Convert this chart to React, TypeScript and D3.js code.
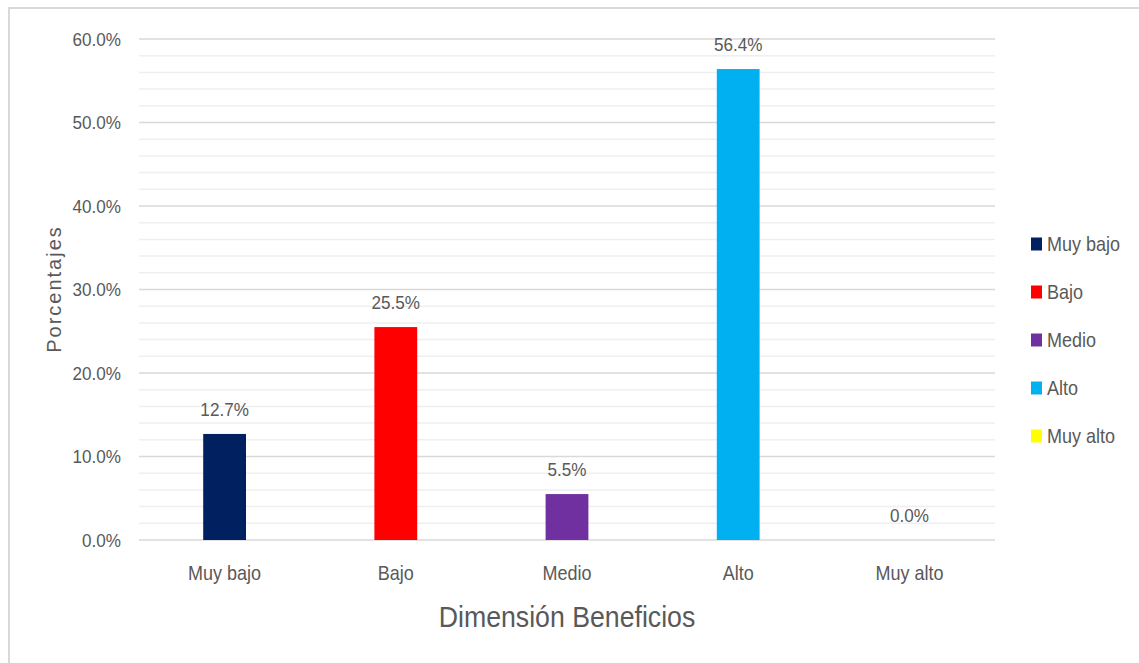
import React, { useRef, useEffect } from 'react';
import * as d3 from 'd3';

const categories: string[] = ['Muy bajo', 'Bajo', 'Medio', 'Alto', 'Muy alto'];
const values: number[] = [12.7, 25.5, 5.5, 56.4, 0.0];
const colors: string[] = ['#002060', '#FF0000', '#7030A0', '#00B0F0', '#FFFF00'];
const majorTicks: number[] = [0, 10, 20, 30, 40, 50, 60];
const minorTicks: number[] = d3.range(0, 60, 2).filter(v => v % 10 !== 0);

const FONT = '"Liberation Sans", Arial, sans-serif';
const TEXT = '#595959';

const App: React.FC = () => {
  const svgRef = useRef<SVGSVGElement>(null);

  useEffect(() => {
    if (!svgRef.current) return;
    const svg = d3.select(svgRef.current);
    svg.selectAll('*').remove();

    const x0 = 139, x1 = 995, yTop = 39, yBottom = 540;

    const x = d3.scaleBand<string>().domain(categories).range([x0, x1]).paddingInner(0).paddingOuter(0);
    const y = d3.scaleLinear().domain([0, 60]).range([yBottom, yTop]);
    const barW = x.bandwidth() * 0.25;

    // chart border
    svg.append('rect')
      .attr('x', 9).attr('y', 8).attr('width', 1150).attr('height', 670)
      .attr('fill', '#fff').attr('stroke', '#d9d9d9').attr('stroke-width', 2);

    // minor gridlines
    svg.append('g').selectAll('line').data(minorTicks).enter().append('line')
      .attr('x1', x0).attr('x2', x1)
      .attr('y1', d => y(d)).attr('y2', d => y(d))
      .attr('stroke', '#efefef').attr('stroke-width', 1.5);

    // major gridlines
    svg.append('g').selectAll('line').data(majorTicks).enter().append('line')
      .attr('x1', x0).attr('x2', x1)
      .attr('y1', d => y(d)).attr('y2', d => y(d))
      .attr('stroke', '#d9d9d9').attr('stroke-width', 1.5);

    // y tick labels
    svg.append('g').selectAll('text').data(majorTicks).enter().append('text')
      .attr('transform', d => `translate(121,${y(d) + 6.5}) scale(0.9,1)`)
      .attr('text-anchor', 'end')
      .attr('font-family', FONT).attr('font-size', 19).attr('fill', TEXT)
      .text(d => d.toFixed(1) + '%');

    // bars
    svg.append('g').selectAll('rect').data(values).enter().append('rect')
      .attr('x', (d, i) => (x(categories[i]) ?? 0) + x.bandwidth() / 2 - barW / 2)
      .attr('y', d => y(d))
      .attr('width', barW)
      .attr('height', d => yBottom - y(d))
      .attr('fill', (d, i) => colors[i]);

    // data labels
    svg.append('g').selectAll('text').data(values).enter().append('text')
      .attr('transform', (d, i) => `translate(${(x(categories[i]) ?? 0) + x.bandwidth() / 2},${y(d) - 18}) scale(0.9,1)`)
      .attr('text-anchor', 'middle')
      .attr('font-family', FONT).attr('font-size', 19).attr('fill', TEXT)
      .text(d => d.toFixed(1) + '%');

    // category labels
    svg.append('g').selectAll('text').data(categories).enter().append('text')
      .attr('transform', d => `translate(${(x(d) ?? 0) + x.bandwidth() / 2},580) scale(0.9,1)`)
      .attr('text-anchor', 'middle')
      .attr('font-family', FONT).attr('font-size', 20).attr('fill', TEXT)
      .text(d => d);

    // x title
    svg.append('text')
      .attr('transform', `translate(${(x0 + x1) / 2},627) scale(0.89,1)`)
      .attr('text-anchor', 'middle')
      .attr('font-family', FONT).attr('font-size', 30).attr('fill', TEXT)
      .text('Dimensión Beneficios');

    // y title
    svg.append('text')
      .attr('transform', 'translate(61,289) rotate(-90)')
      .attr('text-anchor', 'middle')
      .attr('font-family', FONT).attr('font-size', 20).attr('letter-spacing', 2)
      .attr('fill', TEXT)
      .text('Porcentajes');

    // legend
    const legend = svg.append('g').selectAll('g').data(categories).enter().append('g')
      .attr('transform', (d, i) => `translate(1031,${244 + i * 48})`);
    legend.append('rect')
      .attr('x', 0).attr('y', -6.5).attr('width', 11).attr('height', 13)
      .attr('fill', (d, i) => colors[i]);
    legend.append('text')
      .attr('transform', 'translate(16,7) scale(0.9,1)')
      .attr('font-family', FONT).attr('font-size', 20).attr('fill', TEXT)
      .text(d => d);
  }, []);

  return (
    <svg ref={svgRef} width={1139} height={663}
      style={{ position: 'absolute', left: 0, top: 0, background: '#fff' }} />
  );
};

export default App;
